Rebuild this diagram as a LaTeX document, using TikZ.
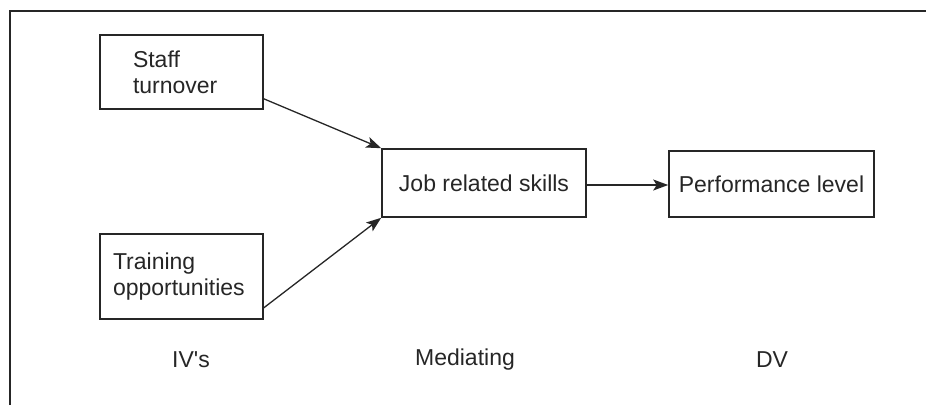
\documentclass[tikz,border=0pt]{standalone}
\usepackage{fontspec}
\setmainfont{Liberation Sans}
\usetikzlibrary{arrows.meta}
\definecolor{ink}{HTML}{262626}
\begin{document}
\begin{tikzpicture}[x=1pt,y=1pt,
  every node/.style={text=ink,font=\fontsize{23}{26}\selectfont},
  varbox/.style={draw=ink,line width=1.6pt,inner ysep=0pt},
  link/.style={draw=ink,line width=1.3pt,-{Stealth[length=15pt,width=11pt,inset=3.5pt]}},
  caption/.style={inner sep=0pt}]
  \useasboundingbox (0,0) rectangle (926,-405);
  % open frame: top and left rules only
  \draw[ink,line width=2.6pt] (10,-405) -- (10,-11) -- (926,-11);

  % independent variables
  \node[varbox,text width=97pt,inner xsep=33pt,minimum height=74pt,align=left]
    (staff) at (181.5,-72) {Staff\\turnover};
  \node[varbox,text width=137pt,inner xsep=13pt,minimum height=85pt,align=left]
    (train) at (181.5,-276.5) {Training\\opportunities};

  % mediator and dependent variable
  \node[varbox,minimum width=204pt,minimum height=68pt] (job) at (484,-183) {Job related skills};
  \node[varbox,minimum width=205pt,minimum height=66pt] (perf) at (771.5,-184) {Performance level};

  % column captions
  \node[caption] (iv) at (191,-360) {IV\textquotesingle s};
  \node[caption] (med) at (465,-360) {Mediating};
  \node[caption] (dv) at (772,-360) {DV};

  % paths
  \draw[link] ([yshift=11pt]staff.south east) -- (job.north west);
  \draw[link] ([yshift=12pt]train.south east) -- (job.south west);
  \draw[link] (job.east |- 0,-185) -- (perf.west |- 0,-185);
\end{tikzpicture}
\end{document}
